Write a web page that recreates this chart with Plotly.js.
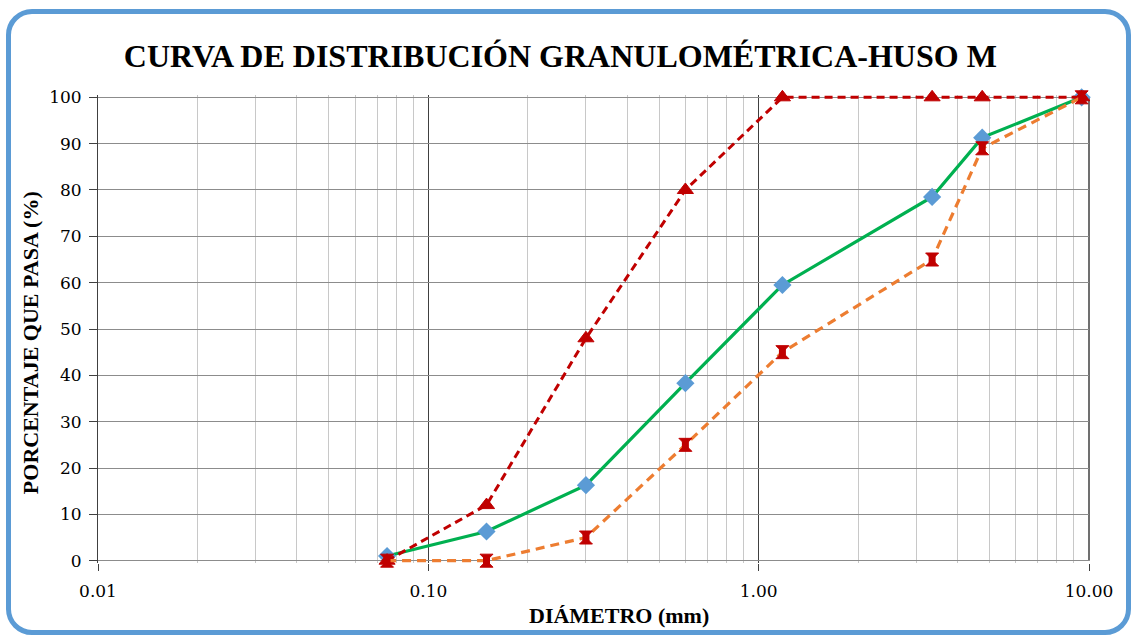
<!DOCTYPE html>
<html><head><meta charset="utf-8">
<script src="https://cdn.plot.ly/plotly-3.0.1.min.js"></script>
<style>
html,body{margin:0;padding:0;background:#fff;}
#wrap{position:relative;width:1132px;height:635px;overflow:hidden;}
#chart{position:absolute;left:0;top:0;width:1132px;height:635px;}
#frame{position:absolute;left:6px;top:9px;width:1115px;height:616px;border:5px solid #5B9BD5;border-radius:26px;pointer-events:none;}
</style></head>
<body><div id="wrap"><div id="chart"></div><div id="frame"></div></div>
<script>
const diametro = [0.075, 0.15, 0.3, 0.6, 1.18, 3.35, 4.75, 9.5];
const muestra = [1.0, 6.3, 16.3, 38.3, 59.5, 78.5, 91.3, 100];
const limiteSuperior = [0, 12, 48, 80, 100, 100, 100, 100];
const limiteInferior = [0, 0, 5, 25, 45, 65, 89, 100];
const xTickVals = [0.01, 0.1, 1, 10];
const xTickText = ["0.01", "0.10", "1.00", "10.00"];
const yTickVals = [0,10,20,30,40,50,60,70,80,90,100];

const traces = [
  {x: diametro, y: muestra, type:'scatter', mode:'lines+markers', name:'Muestra', cliponaxis:false,
   line:{color:'#00B050', width:3.2}, marker:{symbol:'diamond', size:14, color:'#5B9BD5', line:{width:0}}},
  {x: diametro, y: limiteSuperior, type:'scatter', mode:'lines', name:'Límite superior', cliponaxis:false,
   line:{color:'#C00000', width:3, dash:'8px,5px'}},
  {x: diametro, y: limiteSuperior, type:'scatter', mode:'markers', name:'Límite superior', cliponaxis:false,
   marker:{symbol:'triangle-up', size:14, color:'#C00000', line:{color:'#C00000', width:1}}},
  {x: diametro, y: limiteInferior, type:'scatter', mode:'lines', name:'Límite inferior', cliponaxis:false,
   line:{color:'#ED7D31', width:3.2, dash:'9px,6px'}},
  {x: diametro, y: limiteInferior, type:'scatter', mode:'markers', name:'Límite inferior', cliponaxis:false,
   marker:{symbol:'hourglass', size:13, color:'#C00000', line:{color:'#C00000', width:1}}},
  {x: diametro, y: limiteInferior, type:'scatter', mode:'markers', name:'Límite inferior', cliponaxis:false,
   marker:{symbol:'square', size:7, color:'#C00000', line:{width:0}}}
];

const serif = 'Liberation Serif, Times New Roman, serif';
const tickSerif = 'DejaVu Serif, Liberation Serif, serif';
const layout = {
  width:1132, height:635,
  margin:{l:98, r:43, t:95, b:72},
  paper_bgcolor:'#fff', plot_bgcolor:'#fff',
  showlegend:false,
  title:{text:'CURVA DE DISTRIBUCIÓN GRANULOMÉTRICA-HUSO M', x:0.495, xanchor:'center', y:0.912, yanchor:'middle',
         font:{family:serif, size:32, color:'#000', weight:'bold'}},
  xaxis:{type:'log', range:[-2, 1], tickvals:xTickVals, ticktext:xTickText,
         showgrid:true, gridcolor:'#404040', gridwidth:1.5,
         minor:{showgrid:true, gridcolor:'#C8C8C8', gridwidth:1, dtick:'D1'},
         ticks:'outside', ticklen:7, tickcolor:'#404040', ticklabelstandoff:6,
         showline:false, zeroline:false,
         tickfont:{family:tickSerif, size:17, color:'#000'}},
  yaxis:{range:[-0.5,100.5], tickvals:yTickVals, showgrid:true, gridcolor:'#8C8C8C', gridwidth:1,
         ticks:'outside', ticklen:8, tickcolor:'#404040', ticklabelstandoff:4,
         showline:true, linecolor:'#404040', linewidth:1, zeroline:false,
         tickfont:{family:tickSerif, size:17, color:'#000'}},
  annotations:[
    {text:'DIÁMETRO (mm)', xref:'paper', yref:'paper', x:0.526, y:-0.112, xanchor:'center', yanchor:'middle', showarrow:false,
     font:{family:serif, size:22, color:'#000', weight:'bold'}},
    {text:'PORCENTAJE QUE PASA (%)', xref:'paper', yref:'paper', x:-0.0685, y:0.47, xanchor:'center', yanchor:'middle', showarrow:false, textangle:-90,
     font:{family:serif, size:22, color:'#000', weight:'bold'}}
  ],
  shapes:[{type:'line', xref:'paper', yref:'y', x0:1, x1:1, y0:0, y1:100, line:{color:'#404040', width:1.5}, layer:'below'}]
};
Plotly.newPlot('chart', traces, layout, {displayModeBar:false, staticPlot:true});
</script></body></html>
